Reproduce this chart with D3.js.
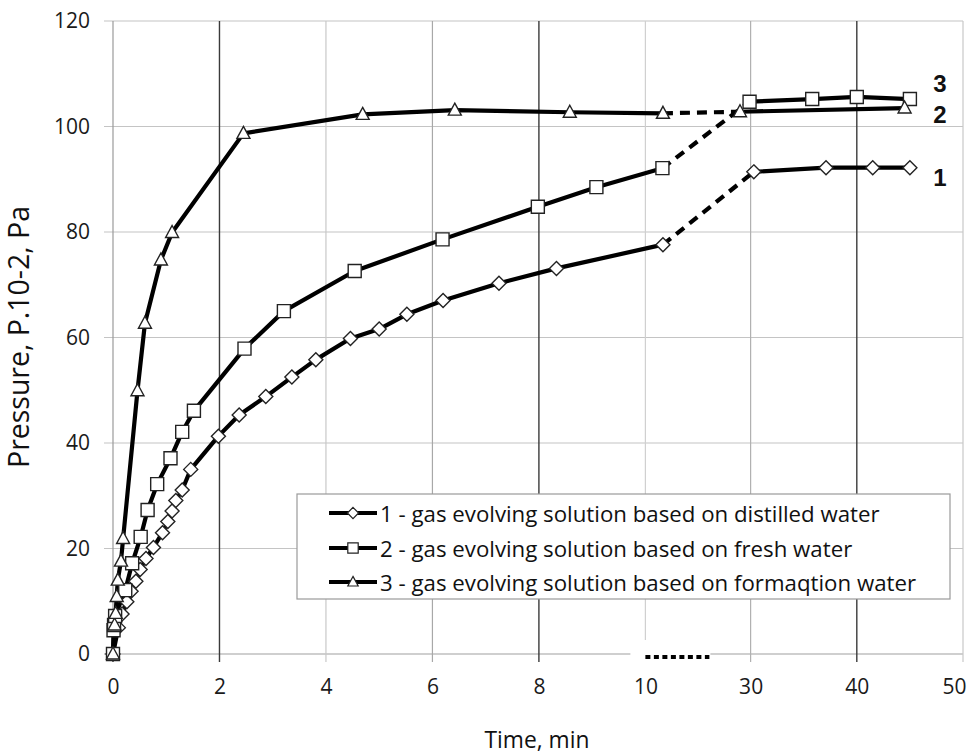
<!DOCTYPE html>
<html><head><meta charset="utf-8">
<script src="https://cdn.jsdelivr.net/npm/d3@7"></script>
<style>body{margin:0;background:#fff} svg{display:block}</style>
</head><body>
<svg id="c" width="968" height="753"></svg>
<script>
// ---- data ----
const xTicks = [0, 2, 4, 6, 8, 10, 30, 40, 50];
const yTicks = [0, 20, 40, 60, 80, 100, 120];
const xTitle = "Time, min";
const yTitle = "Pressure, P.10-2, Pa";
const seriesNames = [
  "1 - gas evolving solution based on distilled water",
  "2 - gas evolving solution based on fresh water",
  "3 - gas evolving solution based on formaqtion water"
];
const endLabels = ["1", "3", "2"]; // labels printed next to the line ends (as in the original)

// series 1: distilled water (diamonds)
const t1 = [0, 0.10, 0.17, 0.26, 0.34, 0.43, 0.51, 0.62, 0.76, 0.93, 1.03, 1.11, 1.18, 1.30, 1.46, 1.98, 2.37, 2.87, 3.36, 3.81, 4.46, 5.00, 5.52, 6.20, 7.25, 8.33, 10.33, 30.3, 37.1, 41.5, 45.0];
const v1 = [0, 5.0, 7.6, 9.9, 11.9, 13.8, 16.0, 18.1, 20.2, 23.0, 25.1, 27.1, 29.1, 31.1, 35.0, 41.3, 45.3, 48.8, 52.5, 55.8, 59.8, 61.6, 64.4, 67.0, 70.3, 73.1, 77.6, 91.4, 92.2, 92.2, 92.2];
// series 2: fresh water (squares)
const t2 = [0, 0.01, 0.02, 0.04, 0.23, 0.36, 0.52, 0.65, 0.83, 1.08, 1.30, 1.52, 2.47, 3.21, 4.54, 6.19, 7.98, 9.08, 10.32, 29.9, 35.8, 40.0, 45.0];
const v2 = [0, 4.5, 5.5, 7.2, 12.1, 17.2, 22.2, 27.3, 32.2, 37.1, 42.1, 46.1, 57.9, 65.0, 72.6, 78.6, 84.8, 88.5, 92.1, 104.7, 105.2, 105.6, 105.2];
// series 3: formation water (triangles)
const t3 = [0, 0.03, 0.05, 0.07, 0.09, 0.15, 0.19, 0.46, 0.60, 0.90, 1.11, 2.45, 4.69, 6.42, 8.58, 10.33, 29.0, 44.5];
const v3 = [0, 5.5, 7.7, 10.9, 14.0, 17.6, 21.9, 49.9, 62.7, 74.7, 79.9, 98.7, 102.3, 103.1, 102.7, 102.5, 102.8, 103.5];

// ---- layout ----
const svg = d3.select("#c");
const L = 113, R = 963, T = 21, B = 654;
const breakA = 10.5, breakB = 29;
const x = d3.scaleLinear().domain([0, breakA, breakB, 50]).range([L, L + 559, R - 223, R]);
const y = d3.scaleLinear().domain([0, 120]).range([B, T]);
const FONT = "'Open Sans', 'Noto Sans', sans-serif";

// ---- grid ----
const gridTone = {0: "#9a9a9a", 2: "#3a3a3a", 4: "#c8c8c8", 6: "#a8a8a8", 8: "#3a3a3a", 10: "#d0d0d0", 30: "#b0b0b0", 40: "#3a3a3a", 50: "#c8c8c8"};
const grid = svg.append("g");
grid.selectAll("line.h").data(yTicks).join("line")
  .attr("x1", L - 9).attr("x2", R)
  .attr("y1", d => y(d)).attr("y2", d => y(d))
  .attr("stroke", d => d === 0 ? "#a0a0a0" : "#c4c4c4").attr("stroke-width", 1.2);
grid.selectAll("line.v").data(xTicks).join("line")
  .attr("x1", d => x(d)).attr("x2", d => x(d))
  .attr("y1", T).attr("y2", B + 8)
  .attr("stroke", d => gridTone[d]).attr("stroke-width", d => gridTone[d] === "#3a3a3a" ? 1.4 : 1.2);

// axis break marker
grid.append("rect").attr("x", x(10) - 15).attr("y", B - 14).attr("width", 80).attr("height", 24).attr("fill", "#fff");
grid.append("line").attr("x1", x(10)).attr("x2", x(10) + 64).attr("y1", B + 3).attr("y2", B + 3)
  .attr("stroke", "#000").attr("stroke-width", 4).attr("stroke-dasharray", "5,3.5");

// ---- axes (labels) ----
const xa = svg.append("g").attr("transform", `translate(0,${B})`)
  .call(d3.axisBottom(x).tickValues(xTicks).tickSize(0).tickPadding(25).tickFormat(d3.format("d")));
const ya = svg.append("g").attr("transform", `translate(${L},0)`)
  .call(d3.axisLeft(y).tickValues(yTicks).tickSize(0).tickPadding(23).tickFormat(d3.format("d")));
[xa, ya].forEach(g => {
  g.select(".domain").remove();
  g.selectAll("text").attr("font-family", FONT).attr("font-size", 21).attr("fill", "#1a1a1a");
});
// last x label sits inside the picture edge, as in the original
xa.selectAll(".tick").filter(d => d === 50).select("text").attr("text-anchor", "end").attr("x", 3);

// ---- series ----
const mk = {
  diamond: "M0,-7L7,0L0,7L-7,0Z",
  square: "M-6.5,-6.5h13v13h-13Z",
  triangle: "M0,-7L6.5,5L-6.5,5Z"
};
const series = [
  {t: t1, v: v1, shape: "diamond"},
  {t: t2, v: v2, shape: "square"},
  {t: t3, v: v3, shape: "triangle"}
];
const line = d3.line().x(d => x(d[0])).y(d => y(d[1]));
const lines = svg.append("g");
const marks = svg.append("g");
series.forEach(s => {
  const pts = s.t.map((t, i) => [t, s.v[i]]);
  const pre = pts.filter(p => p[0] <= breakA);
  const post = pts.filter(p => p[0] >= breakB);
  const bridge = [pre[pre.length - 1], post[0]];
  lines.append("path").attr("d", line(pre)).attr("fill", "none").attr("stroke", "#000").attr("stroke-width", 4.2).attr("stroke-linejoin", "round");
  lines.append("path").attr("d", line(post)).attr("fill", "none").attr("stroke", "#000").attr("stroke-width", 4.2).attr("stroke-linejoin", "round");
  lines.append("path").attr("d", line(bridge)).attr("fill", "none").attr("stroke", "#000").attr("stroke-width", 4.2).attr("stroke-dasharray", "10,7");
  marks.selectAll(null).data(pts).join("path")
    .attr("transform", d => `translate(${x(d[0])},${y(d[1])})`)
    .attr("d", mk[s.shape]).attr("fill", "#fff").attr("stroke", "#222").attr("stroke-width", 1.4);
});

// ---- end labels ----
const endOffsets = [9.5, -16, 6];
[0, 1, 2].forEach(i => {
  const s = series[i];
  const lastV = s.v[s.v.length - 1];
  svg.append("text").attr("x", x(50) - 23).attr("y", y(lastV) + endOffsets[i])
    .attr("text-anchor", "middle").attr("dominant-baseline", "central")
    .attr("font-family", "'Liberation Sans', Arial, sans-serif").attr("font-weight", "bold").attr("font-size", 24)
    .attr("fill", "#111").text(endLabels[i]);
});

// ---- legend ----
const lg = svg.append("g");
lg.append("rect").attr("x", 297).attr("y", 494).attr("width", 653).attr("height", 105)
  .attr("fill", "#fff").attr("stroke", "#9a9a9a").attr("stroke-width", 1.2);
const rows = [513, 548, 582];
let legendSize = 23;
seriesNames.forEach((name, i) => {
  const g = lg.append("g").attr("transform", `translate(0,${rows[i]})`);
  g.append("line").attr("x1", 329).attr("x2", 377).attr("y1", 0).attr("y2", 0).attr("stroke", "#000").attr("stroke-width", 4);
  g.append("path").attr("transform", "translate(353,0) scale(0.8)").attr("d", mk[series[i].shape])
    .attr("fill", "#fff").attr("stroke", "#222").attr("stroke-width", 1.5);
  g.append("text").attr("class", "lt").attr("x", 380).attr("y", 0).attr("dominant-baseline", "central")
    .attr("font-family", FONT).attr("font-size", legendSize).attr("fill", "#111").text(name);
});
const w0 = lg.select("text.lt").node().getComputedTextLength();
const fitSize = legendSize * 500 / w0;
lg.selectAll("text.lt").attr("font-size", fitSize);

// ---- titles ----
const xt = svg.append("text").attr("x", 537).attr("y", 739).attr("text-anchor", "middle").attr("dominant-baseline", "central")
  .attr("font-family", FONT).attr("font-size", 21).attr("fill", "#111").text(xTitle);
const yt = svg.append("text").attr("transform", "translate(18,337) rotate(-90)").attr("text-anchor", "middle").attr("dominant-baseline", "central")
  .attr("font-family", FONT).attr("font-size", 21).attr("fill", "#111").text(yTitle);
const fit = (sel, target) => { const w = sel.node().getComputedTextLength(); sel.attr("font-size", 21 * target / w); };
fit(xt, 105);
fit(yt, 262);
</script>
</body></html>
